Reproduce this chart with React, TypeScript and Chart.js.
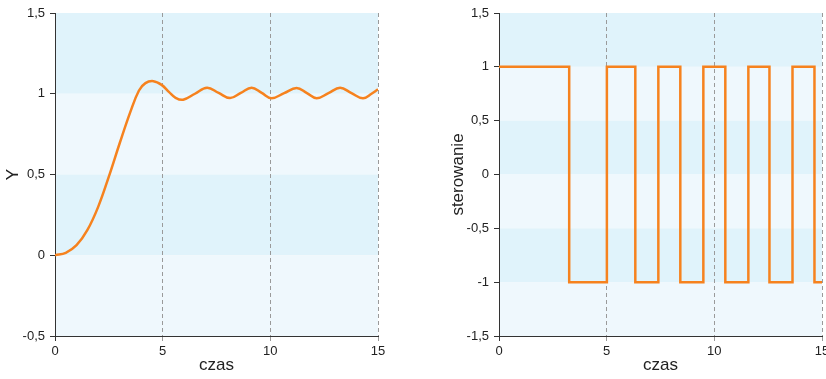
import React, { useEffect, useRef } from 'react';
import { Chart, registerables } from 'chart.js';

Chart.register(...registerables);

// ---- data ----
const xTicks = [0, 5, 10, 15];
const yTicksLeft = [-0.5, 0, 0.5, 1, 1.5];
const yTicksRight = [-1.5, -1, -0.5, 0, 0.5, 1, 1.5];

const xTitle = 'czas';
const yTitleLeft = 'Y';
const yTitleRight = 'sterowanie';

// system response Y(t)
const responseTime = [
  0, 0.5, 1.0, 1.5, 2.0, 2.5, 3.0, 3.5, 3.9, 4.2, 4.57, 4.95, 5.3, 5.6, 5.95,
  6.5, 7.06, 7.6, 8.13, 8.63, 9.13, 9.6, 10.06, 10.64, 11.22, 11.7, 12.15,
  12.7, 13.24, 13.77, 14.3, 14.7, 15,
];
const responseValue = [
  0, 0.015, 0.062, 0.155, 0.298, 0.487, 0.692, 0.888, 1.02, 1.066, 1.078, 1.055, 1.01, 0.975, 0.963,
  1.0, 1.037, 1.005, 0.973, 1.005, 1.037, 1.005, 0.972, 1.004, 1.035, 1.004, 0.972,
  1.004, 1.037, 1.004, 0.972, 1.0, 1.028,
];

// control signal (switching instants and new values)
const controlTime = [0, 3.26, 5.01, 6.33, 7.4, 8.42, 9.49, 10.51, 11.58, 12.56, 13.63, 14.65, 15];
const controlValue = [1, -1, 1, -1, 1, -1, 1, -1, 1, -1, 1, -1, -1];

// ---- styles ----
const ORANGE = '#f6821e';
const BAND_DARK = '#e0f3fb';
const BAND_LIGHT = '#eff8fd';
const AXIS = '#333333';
const GRID = '#9a9a9a';
const TEXT = '#222222';
const FONT = "'Liberation Sans', Arial, sans-serif";

const bandsPlugin = {
  id: 'bands',
  beforeDraw(chart: any, _args: any, opts: any) {
    const { ctx, chartArea, scales } = chart;
    const ticks: number[] = [...(opts.ticks || [])].sort((a, b) => b - a);
    const y = scales.y;
    ctx.save();
    for (let i = 0; i < ticks.length - 1; i++) {
      const top = y.getPixelForValue(ticks[i]);
      const bot = y.getPixelForValue(ticks[i + 1]);
      ctx.fillStyle = i % 2 === 0 ? BAND_DARK : BAND_LIGHT;
      ctx.fillRect(chartArea.left, top, chartArea.right - chartArea.left, bot - top);
    }
    ctx.restore();
  },
};

const fmt = (v: any) => String(v).replace('.', ',');

type PlotProps = {
  left: number;
  width: number;
  yWidth: number;
  padRight: number;
  yTitlePad: number;
  yTitle: string;
  yTicks: number[];
  xs: number[];
  ys: number[];
  stepped: boolean;
};

function Plot(p: PlotProps) {
  const ref = useRef<HTMLCanvasElement | null>(null);
  useEffect(() => {
    if (!ref.current) return;
    const data = p.xs.map((x, i) => ({ x, y: p.ys[i] }));
    const chart = new Chart(ref.current, {
      type: 'line',
      data: {
        datasets: [
          {
            data,
            borderColor: ORANGE,
            borderWidth: 2.5,
            pointRadius: 0,
            fill: false,
            stepped: p.stepped ? 'before' : false,
            tension: p.stepped ? 0 : 0.4,
            cubicInterpolationMode: 'default',
          } as any,
        ],
      },
      options: {
        animation: false,
        responsive: false,
        events: [],
        layout: { padding: { top: 13, right: p.padRight, left: 0, bottom: 0 } },
        plugins: {
          legend: { display: false },
          tooltip: { enabled: false },
          bands: { ticks: p.yTicks },
        } as any,
        scales: {
          x: {
            type: 'linear',
            min: xTicks[0],
            max: xTicks[xTicks.length - 1],
            afterBuildTicks: (s: any) => {
              s.ticks = xTicks.map((v) => ({ value: v }));
            },
            afterFit: (s: any) => {
              s.height = 43;
            },
            ticks: {
              color: TEXT,
              font: { family: FONT, size: 13 },
              padding: 3,
              callback: fmt,
              maxRotation: 0,
            },
            grid: {
              color: (c: any) => (c.tick && c.tick.value === 0 ? 'rgba(0,0,0,0)' : GRID),
              tickColor: (c: any) => (c.tick && c.tick.value === 0 ? AXIS : GRID),
              tickLength: 5,
              lineWidth: 1,
            },
            border: { display: true, color: AXIS, width: 1, dash: [4, 3] },
            title: {
              display: true,
              text: xTitle,
              color: TEXT,
              font: { family: FONT, size: 17 },
              padding: { top: 0, bottom: 3 },
            },
          },
          y: {
            type: 'linear',
            min: p.yTicks[0],
            max: p.yTicks[p.yTicks.length - 1],
            afterBuildTicks: (s: any) => {
              s.ticks = p.yTicks.map((v) => ({ value: v }));
            },
            afterFit: (s: any) => {
              s.width = p.yWidth;
            },
            ticks: {
              color: TEXT,
              font: { family: FONT, size: 13 },
              padding: 5,
              callback: fmt,
            },
            grid: {
              drawOnChartArea: false,
              tickLength: 5,
              color: AXIS,
              tickColor: AXIS,
            },
            border: { display: true, color: AXIS, width: 1 },
            title: {
              display: true,
              text: p.yTitle,
              color: TEXT,
              font: { family: FONT, size: 17 },
              padding: { top: p.yTitlePad, bottom: 0 },
            },
          },
        },
      } as any,
      plugins: [bandsPlugin as any],
    });
    return () => chart.destroy();
  }, []);
  return (
    <canvas
      ref={ref}
      width={p.width}
      height={379}
      style={{ position: 'absolute', left: p.left, top: 0, width: p.width, height: 379 }}
    />
  );
}

export default function App() {
  return (
    <div
      style={{
        position: 'fixed',
        left: 0,
        top: 0,
        width: 826,
        height: 379,
        overflow: 'hidden',
        background: '#ffffff',
      }}
    >
      <Plot
        left={0}
        width={420}
        yWidth={55}
        padRight={42}
        yTitlePad={3}
        yTitle={yTitleLeft}
        yTicks={yTicksLeft}
        xs={responseTime}
        ys={responseValue}
        stepped={false}
      />
      <Plot
        left={420}
        width={420}
        yWidth={79}
        padRight={18}
        yTitlePad={28}
        yTitle={yTitleRight}
        yTicks={yTicksRight}
        xs={controlTime}
        ys={controlValue}
        stepped={true}
      />
    </div>
  );
}
